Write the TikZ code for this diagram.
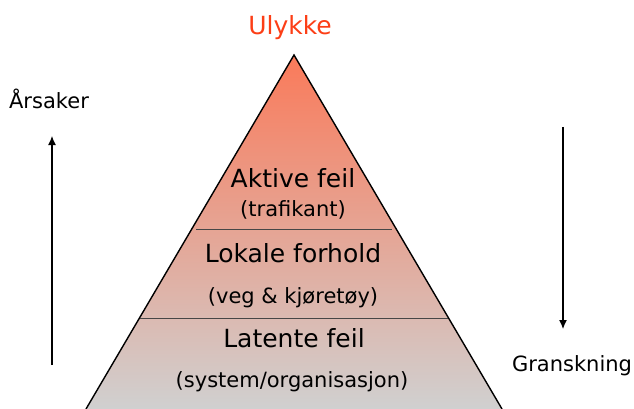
\documentclass[tikz,border=0pt]{standalone}
\usepackage{fontspec}
\setmainfont{DejaVu Sans}
\usetikzlibrary{arrows.meta}
\definecolor{ulred}{RGB}{252,62,22}
\definecolor{ptop}{RGB}{250,122,90}
\definecolor{pmid}{RGB}{232,182,176}
\definecolor{pbot}{RGB}{208,208,208}
\definecolor{sepgray}{RGB}{70,70,70}
\begin{document}
\begin{tikzpicture}[x=1pt,y=-1pt,
  big/.style={font=\fontsize{25}{28}\selectfont, inner sep=0pt, anchor=base},
  small/.style={font=\fontsize{21}{24}\selectfont, inner sep=0pt, anchor=base},
  side/.style={font=\fontsize{21}{24}\selectfont, inner sep=0pt, anchor=base},
  sep/.style={draw=sepgray, line width=1pt},
  arr/.style={-{Latex[length=9pt,width=8pt]}, line width=1.2pt}]
\useasboundingbox (0,0) rectangle (634,409);
% pyramid
\coordinate (apex) at (294,55);
\coordinate (bl) at (86,409);
\coordinate (br) at (502,409);
\fill[top color=ptop, middle color=pmid, bottom color=pbot] (apex) -- (bl) -- (br) -- cycle;
\draw[line width=1.4pt, line join=miter] (bl) -- (apex) -- (br);
% separators
\coordinate (s1l) at (196,229);
\coordinate (s1r) at (392,229);
\coordinate (s2l) at (140,318);
\coordinate (s2r) at (448,318);
\draw[sep] (s1l) -- (s1r);
\draw[sep] (s2l) -- (s2r);
% texts
\node[big, text=ulred] (ulykke) at (290,35) {Ulykke};
\node[big] (aktive) at (293,187) {Aktive feil};
\node[small] (trafikant) at (293,216) {(trafikant)};
\node[big] (lokale) at (293,262) {Lokale forhold};
\node[small] (veg) at (293,303) {(veg \& kjøretøy)};
\node[big] (latente) at (294,347) {Latente feil};
\node[small] (system) at (292,387) {(system/organisasjon)};
\node[side] (arsaker) at (49,109) {Årsaker};
\node[side] (gransk) at (572,371) {Granskning};
% arrows
\coordinate (a1s) at (52,365);
\coordinate (a1e) at (52,136);
\coordinate (a2s) at (563,127);
\coordinate (a2e) at (563,329);
\draw[arr] (a1s) -- (a1e);
\draw[arr] (a2s) -- (a2e);
\end{tikzpicture}
\end{document}
